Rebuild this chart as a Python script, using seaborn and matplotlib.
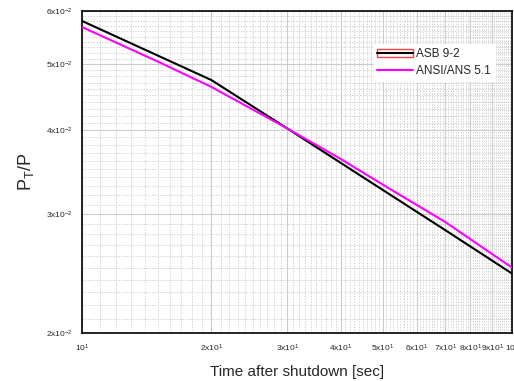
import matplotlib
matplotlib.use('Agg')
import matplotlib.pyplot as plt
import seaborn as sns
import pandas as pd
from matplotlib.patches import Rectangle
from matplotlib.lines import Line2D
from matplotlib.legend_handler import HandlerTuple
from matplotlib.ticker import FixedLocator, NullFormatter

# values
t_asb = [10, 20, 30, 50, 70, 100]
p_asb = [0.0580, 0.0474, 0.0402, 0.0326, 0.0284, 0.0245]
t_ans = [10, 15, 20, 30, 40, 52, 70, 100]
p_ans = [0.0568, 0.0505, 0.0463, 0.0402, 0.0362, 0.0327, 0.0292, 0.0250]

x_major = [10, 20, 30, 40, 50, 60, 70, 80, 90, 100]
x_labels = [r'$\mathregular{10^1}$'] + [r'$\mathregular{%dx10^1}$' % k for k in range(2, 10)] + [r'$\mathregular{10^2}$']
y_major = [0.02, 0.03, 0.04, 0.05, 0.06]
y_labels = [r'$\mathregular{%dx10^{-2}}$' % k for k in range(2, 7)]

sns.set_style('white')
plt.rcParams['font.family'] = ['Liberation Sans', 'DejaVu Sans']

df = pd.concat([
    pd.DataFrame({'t': t_asb, 'p': p_asb, 'src': 'ASB 9-2'}),
    pd.DataFrame({'t': t_ans, 'p': p_ans, 'src': 'ANSI/ANS 5.1'}),
])

fig = plt.figure(figsize=(5.14, 3.81), dpi=100)
ax = fig.add_axes([82 / 514, 48 / 381, 430 / 514, 322 / 381])

sns.lineplot(data=df, x='t', y='p', hue='src', palette={'ASB 9-2': 'black', 'ANSI/ANS 5.1': '#ff00ff'},
             linewidth=1.5, ax=ax, legend=False, zorder=3)

ax.set_xscale('log')
ax.set_yscale('log')
ax.set_xlim(10, 100)
ax.set_ylim(0.02, 0.06)

ax.xaxis.set_major_locator(FixedLocator(x_major))
ax.set_xticklabels(x_labels)
ax.xaxis.set_minor_locator(FixedLocator([v for v in range(11, 100) if v % 10 != 0]))
ax.xaxis.set_minor_formatter(NullFormatter())
ax.yaxis.set_major_locator(FixedLocator(y_major))
ax.set_yticklabels(y_labels)
ax.yaxis.set_minor_locator(FixedLocator([k / 1000 for k in range(21, 60) if k % 10 != 0]))
ax.yaxis.set_minor_formatter(NullFormatter())

ax.tick_params(which='major', direction='inout', length=6, width=1, labelsize=6, pad=4)
ax.tick_params(which='minor', direction='inout', length=3, width=0.8)

ax.grid(which='major', color='#cccccc', linestyle='-', linewidth=0.8)
ax.grid(which='minor', color='#c0c0c0', linestyle=(0, (2, 2)), linewidth=0.5)

for s in ax.spines.values():
    s.set_color('black')
    s.set_linewidth(1.2)

ax.set_xlabel('Time after shutdown [sec]', fontsize=11, labelpad=8)
ax.set_ylabel(r'$\mathregular{P_T/P}$', fontsize=13, labelpad=7)

h1 = (Rectangle((0, 0), 1, 1, facecolor='none', edgecolor='#ff4040', linewidth=1.0),
      Line2D([0], [0], color='black', linewidth=1.5))
h2 = Line2D([0], [0], color='#ff00ff', linewidth=1.5)
ax.legend([h1, h2], ['ASB 9-2', 'ANSI/ANS 5.1'], handler_map={tuple: HandlerTuple(ndivide=1, pad=0)},
          loc='upper left', bbox_to_anchor=(0.665, 0.915), frameon=True, fancybox=False,
          edgecolor='white', framealpha=1, fontsize=8.5, handlelength=3, handletextpad=0.3,
          borderpad=0.3, labelspacing=0.45)

fig.savefig('out.png', dpi=100)
